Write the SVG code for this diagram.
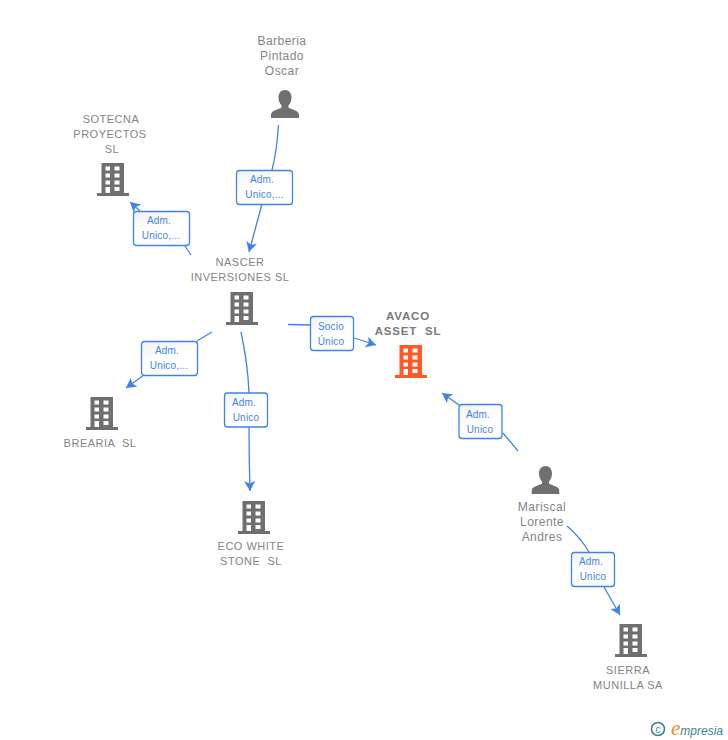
<svg xmlns="http://www.w3.org/2000/svg" width="728" height="740" viewBox="0 0 728 740">
<style>
text{white-space:pre}
.n{font:11px "Liberation Sans",Arial,sans-serif;fill:#848484;text-anchor:middle;letter-spacing:.5px}
.p{font-size:12px;letter-spacing:.45px}
.b{font-weight:bold;font-size:11.5px;fill:#7a7a7a;letter-spacing:.8px}
.l{font:10px "Liberation Sans",Arial,sans-serif;fill:#3f84e5;text-anchor:middle;letter-spacing:.2px}
.box{fill:url(#g);stroke:#3f84e5;stroke-width:1.300}
.c path{fill:none;stroke:#3f84e5;stroke-width:1.300}
.a{marker-end:url(#ar)}
</style>
<defs>
<linearGradient id="g" x1="0" y1="0" x2="0.6" y2="1"><stop offset="0" stop-color="#f1f1f1"/><stop offset="0.55" stop-color="#fff"/></linearGradient>
<marker id="ar" markerUnits="userSpaceOnUse" markerWidth="12" markerHeight="12" refX="10" refY="5.500" orient="auto" viewBox="0 0 12 11"><path d="M0 0L10 5.500L0 11L2.500 5.500Z" fill="#3f84e5" stroke="none"/></marker>
<symbol id="bld" width="32" height="33" viewBox="0 0 32 33" overflow="visible">
<path fill-rule="evenodd" d="M4.500 0H27V30H32V33H0V30H4.500ZM8.500 3.500V7.500H13V3.500ZM17.500 3.500V7.500H22.500V3.500ZM8.500 10.500V14.500H13V10.500ZM17.500 10.500V14.500H22.500V10.500ZM8.500 17.500V21.500H13V17.500ZM17.500 17.500V21.500H22.500V17.500ZM8.500 24V30H13V24ZM17.500 24V28H22.500V24Z"/>
</symbol>
<symbol id="per" width="28" height="28" viewBox="0 0 28 28">
<path d="M14 0C18 0 20.500 3 20.500 7.500C20.500 11 19 14 17.500 15.500V17.500C20 19.500 28 20 28 25V28H0V25C0 20 8 19.500 10.500 17.500V15.500C9 14 7.500 11 7.500 7.500C7.500 3 10 0 14 0Z"/>
</symbol>
</defs>
<rect width="728" height="740" fill="#fff"/>
<g class="c" id="connectors">
<path d="M278.500 125Q277 150 272 170"/>
<path class="a" d="M262 204L249 252"/>
<path d="M191 255L185 246"/>
<path class="a" d="M140 211L130 202"/>
<path d="M288 324.500L310 325"/>
<path class="a" d="M354 338L376 345"/>
<path d="M212 332L197 341"/>
<path class="a" d="M144 375L126 388"/>
<path d="M241 332Q248 365 249 393"/>
<path class="a" d="M249 427Q249 460 250 491"/>
<path d="M518 451L503 433"/>
<path class="a" d="M459 405L442 393"/>
<path d="M567 526Q580 537 589 552"/>
<path class="a" d="M604 587L620 615"/>
</g>
<g id="edge-labels">
<g><rect class="box" x="236.500" y="170.500" width="56" height="34" rx="3"/><text class="l" x="262" y="183">Adm.</text><text class="l" x="264.500" y="198">Unico,...</text></g>
<g><rect class="box" x="133.500" y="211.500" width="56" height="34" rx="3"/><text class="l" x="159" y="224">Adm.</text><text class="l" x="161" y="239">Unico,...</text></g>
<g><rect class="box" x="310.500" y="316.500" width="43" height="34" rx="3"/><text class="l" x="331" y="329.500">Socio</text><text class="l" x="331" y="344.500">Único</text></g>
<g><rect class="box" x="141.500" y="341.500" width="56" height="34" rx="3"/><text class="l" x="167" y="354">Adm.</text><text class="l" x="169" y="369">Unico,...</text></g>
<g><rect class="box" x="224.500" y="393" width="43" height="34" rx="3"/><text class="l" x="244" y="406">Adm.</text><text class="l" x="246" y="421">Unico</text></g>
<g><rect class="box" x="459" y="404.500" width="43" height="34" rx="3"/><text class="l" x="478" y="418">Adm.</text><text class="l" x="480" y="433">Unico</text></g>
<g><rect class="box" x="571.500" y="552.500" width="43" height="34" rx="3"/><text class="l" x="591" y="565">Adm.</text><text class="l" x="593" y="580">Unico</text></g>
</g>
<g id="barberia"><use href="#per" x="271" y="90" fill="#6f6f6f"/><text class="n p" x="282" y="45">Barberia</text><text class="n p" x="282" y="60">Pintado</text><text class="n p" x="282" y="75">Oscar</text></g>
<g id="sotecna"><use href="#bld" x="97" y="163" fill="#6f6f6f"/><text class="n" x="111" y="123">SOTECNA</text><text class="n" x="110" y="138">PROYECTOS</text><text class="n" x="112" y="153">SL</text></g>
<g id="nascer"><use href="#bld" x="226" y="292" fill="#6f6f6f"/><text class="n" x="240" y="266">NASCER</text><text class="n" x="240" y="281">INVERSIONES SL</text></g>
<g id="avaco"><use href="#bld" x="395" y="345" fill="#ff5a26"/><text class="n b" x="408" y="320">AVACO</text><text class="n b" x="408" y="335">ASSET  SL</text></g>
<g id="brearia"><use href="#bld" x="86" y="397" fill="#6f6f6f"/><text class="n" x="100" y="447">BREARIA  SL</text></g>
<g id="eco"><use href="#bld" x="238" y="501" fill="#6f6f6f"/><text class="n" x="251" y="550">ECO WHITE</text><text class="n" x="251" y="565">STONE  SL</text></g>
<g id="mariscal"><use href="#per" x="531.500" y="466" fill="#6f6f6f"/><text class="n p" x="542" y="511">Mariscal</text><text class="n p" x="542" y="526">Lorente</text><text class="n p" x="542" y="541">Andres</text></g>
<g id="sierra"><use href="#bld" x="615" y="624" fill="#6f6f6f"/><text class="n" x="628" y="674">SIERRA</text><text class="n" x="628" y="689">MUNILLA SA</text></g>
<g id="logo"><circle cx="658" cy="729" r="6.500" fill="none" stroke="#3d7f96" stroke-width="1.600"/><text x="658" y="732.500" font-family="Liberation Sans, sans-serif" font-size="10" fill="#3d7f96" text-anchor="middle">c</text>
<text x="671" y="735" font-family="Liberation Sans, sans-serif" font-style="italic" font-size="12" fill="#3d7f96"><tspan fill="#f08a1d" font-size="21" font-family="Liberation Serif, serif">e</tspan>mpresia</text></g>
</svg>
